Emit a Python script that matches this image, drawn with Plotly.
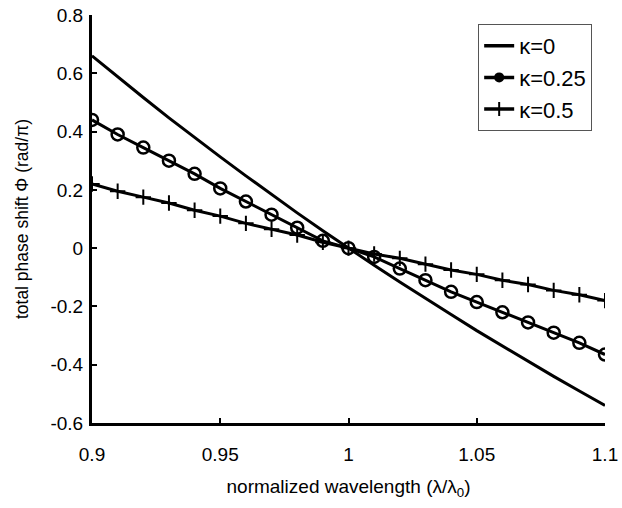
import plotly.graph_objects as go

wavelength = [0.90, 0.91, 0.92, 0.93, 0.94, 0.95, 0.96, 0.97, 0.98, 0.99, 1.00,
              1.01, 1.02, 1.03, 1.04, 1.05, 1.06, 1.07, 1.08, 1.09, 1.10]
k0 = [0.66, 0.587, 0.517, 0.447, 0.379, 0.313, 0.248, 0.184, 0.121, 0.06, 0.0,
      -0.059, -0.116, -0.173, -0.228, -0.283, -0.336, -0.389, -0.44, -0.49, -0.54]
k025 = [0.44, 0.39, 0.345, 0.30, 0.255, 0.205, 0.16, 0.115, 0.07, 0.025, 0.0,
        -0.03, -0.07, -0.11, -0.15, -0.185, -0.22, -0.255, -0.29, -0.325, -0.365]
k05 = [0.22, 0.195, 0.175, 0.155, 0.13, 0.11, 0.085, 0.065, 0.045, 0.02, 0.0,
       -0.02, -0.035, -0.055, -0.075, -0.09, -0.11, -0.125, -0.145, -0.16, -0.18]
names = ["κ=0", "κ=0.25", "κ=0.5"]
x_ticks = [0.9, 0.95, 1.0, 1.05, 1.1]
x_ticktext = ["0.9", "0.95", "1", "1.05", "1.1"]
y_ticks = [-0.6, -0.4, -0.2, 0, 0.2, 0.4, 0.6, 0.8]
y_ticktext = ["-0.6", "-0.4", "-0.2", "0", "0.2", "0.4", "0.6", "0.8"]

font = "Liberation Sans, Arial, sans-serif"
fig = go.Figure()
# plotted curves
fig.add_trace(go.Scatter(x=wavelength, y=k0, mode="lines", name=names[0], showlegend=False,
                         line=dict(color="black", width=3)))
fig.add_trace(go.Scatter(x=wavelength, y=k025, mode="lines+markers", name=names[1], showlegend=False,
                         line=dict(color="black", width=3),
                         marker=dict(symbol="circle-open", size=12, color="black",
                                     line=dict(width=2.5, color="black"))))
fig.add_trace(go.Scatter(x=wavelength, y=k05, mode="lines+markers", name=names[2], showlegend=False,
                         line=dict(color="black", width=3),
                         marker=dict(symbol="cross-thin-open", size=11, color="black",
                                     line=dict(width=2, color="black"))))
# legend entries (legend symbols differ from plotted markers in the reference)
fig.add_trace(go.Scatter(x=[None], y=[None], mode="lines", name=names[0],
                         line=dict(color="black", width=3.5)))
fig.add_trace(go.Scatter(x=[None], y=[None], mode="lines+markers", name=names[1],
                         line=dict(color="black", width=3.5),
                         marker=dict(symbol="circle", size=10, color="black")))
fig.add_trace(go.Scatter(x=[None], y=[None], mode="lines+markers", name=names[2],
                         line=dict(color="black", width=3.5),
                         marker=dict(symbol="cross-thin-open", size=10, color="black",
                                     line=dict(width=2, color="black"))))

fig.update_layout(
    width=622, height=508,
    margin=dict(l=92, r=17, t=15, b=85),
    paper_bgcolor="white", plot_bgcolor="white",
    font=dict(family=font, color="black", size=19),
    legend=dict(x=0.975, y=0.978, xanchor="right", yanchor="top",
                bgcolor="white", bordercolor="#555", borderwidth=1,
                font=dict(size=22), itemwidth=30, tracegroupgap=0),
    xaxis=dict(range=[0.9, 1.1], tickvals=x_ticks, ticktext=x_ticktext,
               showgrid=False, zeroline=False, showline=True, linecolor="black",
               linewidth=3, ticks="inside", ticklen=5, tickwidth=2, tickcolor="black",
               tickfont=dict(size=19), automargin=False, ticklabelstandoff=12,
               title=dict(text="normalized wavelength (λ/λ<sub>0</sub>)",
                          font=dict(size=19), standoff=16)),
    yaxis=dict(range=[-0.6, 0.8], tickvals=y_ticks, ticktext=y_ticktext,
               showgrid=False, zeroline=False, showline=True, linecolor="black",
               linewidth=3, ticks="inside", ticklen=5, tickwidth=2, tickcolor="black",
               tickfont=dict(size=19), automargin=False, ticklabelstandoff=2,
               title=dict(text="total phase shift Φ (rad/π)",
                          font=dict(size=17.5), standoff=18)),
)
fig.write_html("out.html")
